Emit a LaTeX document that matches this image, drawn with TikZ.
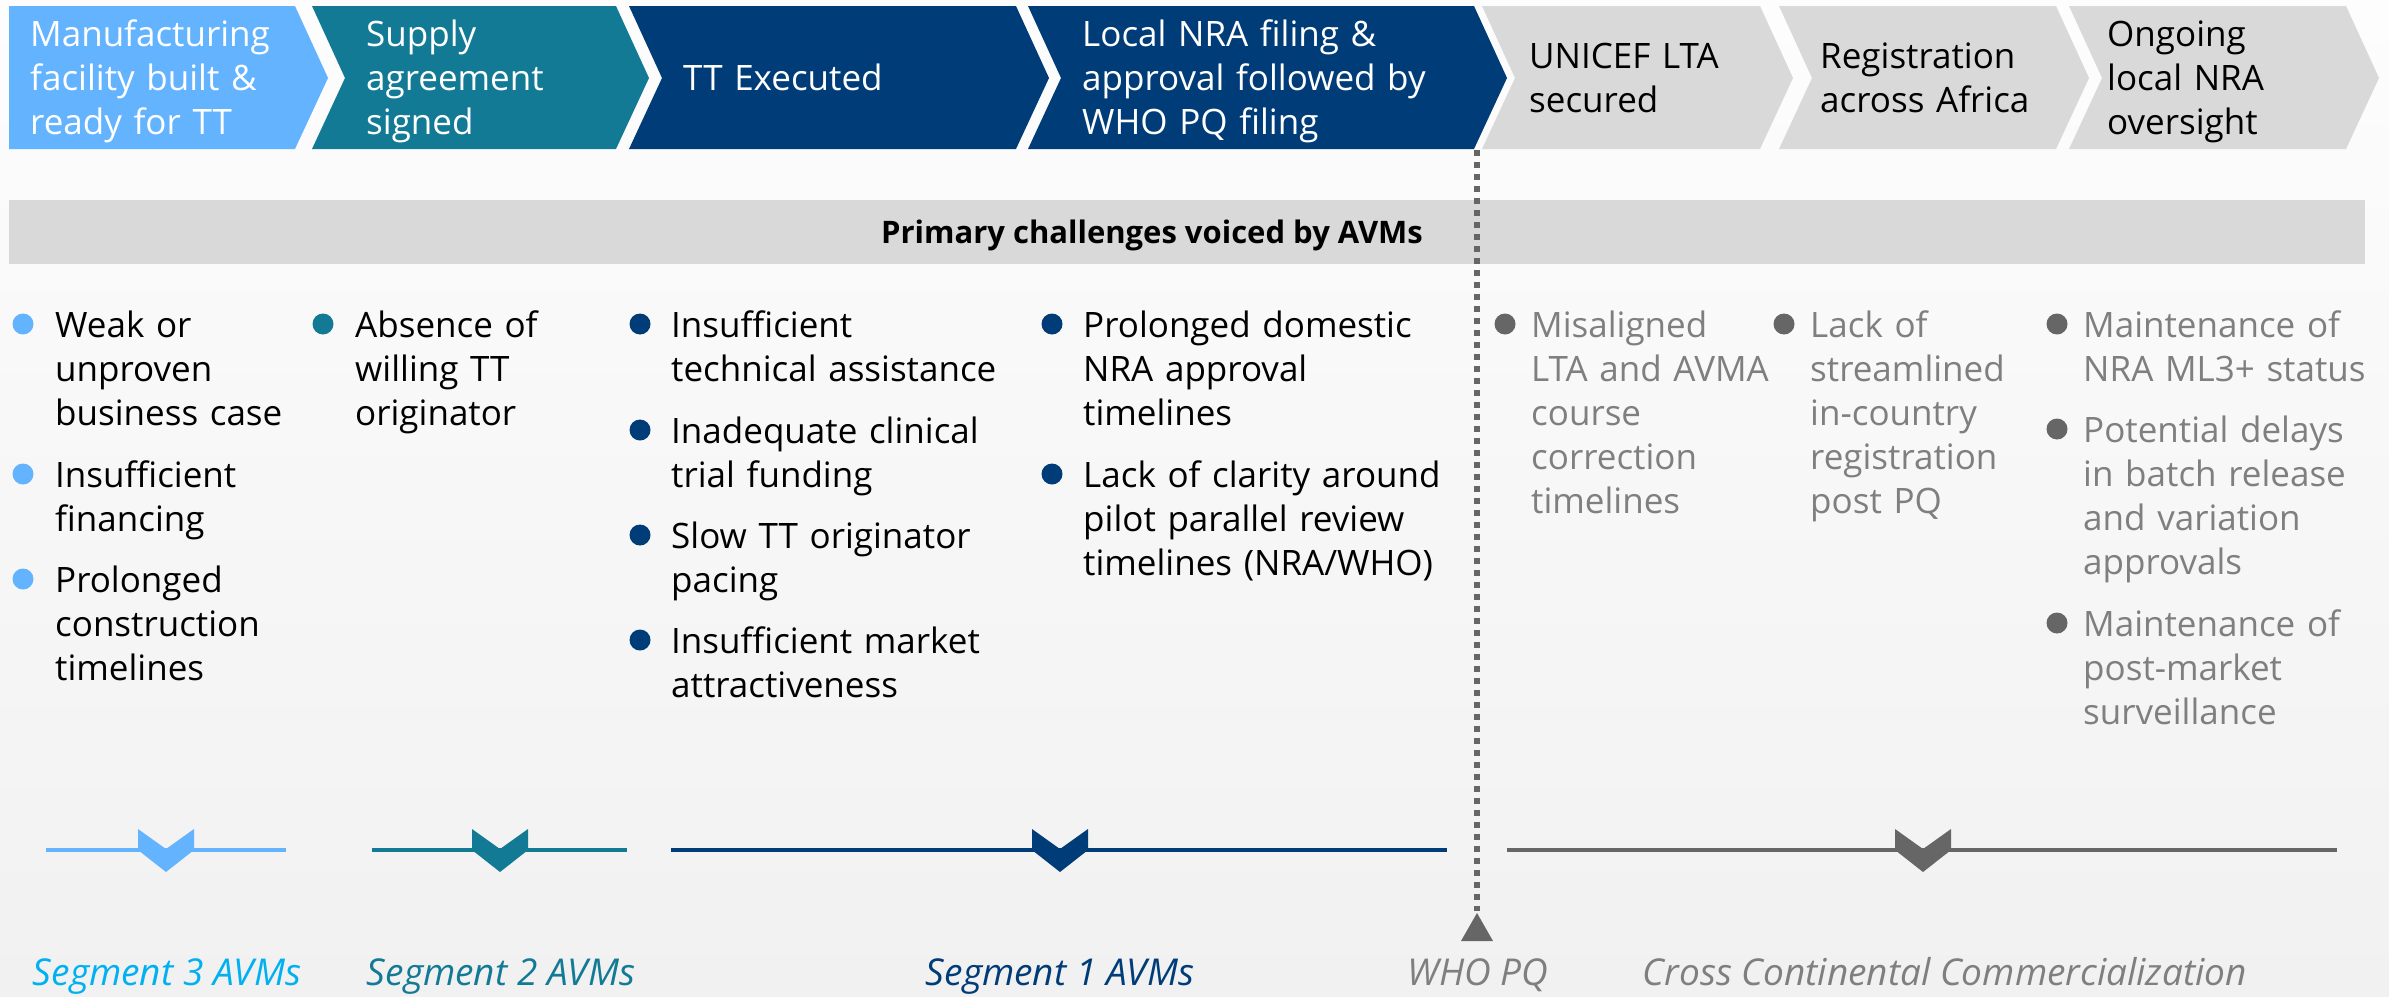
\documentclass[tikz,border=0pt]{standalone}
\usepackage{fontspec}
\setmainfont{Open Sans}
\definecolor{cLight}{HTML}{63B3FF}
\definecolor{cTeal}{HTML}{137A96}
\definecolor{cNavy}{HTML}{003D78}
\definecolor{cGrayChev}{HTML}{D9D9D9}
\definecolor{cDot}{HTML}{666666}
\definecolor{cGrayTxt}{HTML}{7F7F7F}
\definecolor{cSeg}{HTML}{00B0F0}
\definecolor{bgTop}{HTML}{FDFDFD}
\definecolor{bgBot}{HTML}{F1F1F1}
\begin{document}
\begin{tikzpicture}[x=1pt,y=-1pt,
  txt/.style={anchor=base west, inner sep=0pt, text width=470pt, align=left,
      font=\fontsize{35}{44}\selectfont},
  chevtxt/.style={txt, text=white},
  chevtxtdark/.style={txt, text=black},
  itemtxt/.style={txt, text=black},
  grayitem/.style={txt, text=cGrayTxt},
  bulletdot/.style={circle, fill=#1, minimum size=21pt, inner sep=0pt},
  seglabel/.style={anchor=base, inner sep=0pt, font=\fontsize{37}{42}\selectfont\itshape, text=#1},
  segline/.style={line width=4.5pt, draw=#1},
  titletxt/.style={anchor=base, inner sep=0pt, font=\fontsize{31}{36}\selectfont\bfseries},
]
\useasboundingbox (0,0) rectangle (2389,996);
\fill[top color=bgTop, bottom color=bgBot] (0,0) rectangle (2389,996);

% chevrons
\fill[cLight] (9,6) -- (295,6) -- (328,78) -- (295,149) -- (9,149) -- cycle;
\foreach \xl/\xr/\col in {312/616/cTeal, 629/1016/cNavy, 1028/1474/cNavy,
    1482/1760/cGrayChev, 1779/2056/cGrayChev, 2069/2346/cGrayChev}{
  \fill[\col] (\xl,6) -- (\xr,6) -- (\xr+33,78) -- (\xr,149) -- (\xl,149) -- (\xl+33,78) -- cycle;
}
\node[chevtxt] (c1) at (30,46) {Manufacturing\\facility built \&\\ready for TT};
\node[chevtxt] (c2) at (366,46) {Supply\\agreement\\signed};
\node[chevtxt] (c3) at (683,90) {TT Executed};
\node[chevtxt] (c4) at (1082,46) {Local NRA filing \&\\approval followed by\\WHO PQ filing};
\node[chevtxtdark] (c5) at (1529,68) {UNICEF LTA\\secured};
\node[chevtxtdark] (c6) at (1820,68) {Registration\\across Africa};
\node[chevtxtdark] (c7) at (2107,46) {Ongoing\\local NRA\\oversight};

% title bar
\fill[cGrayChev] (9,200) rectangle (2365,264);
\node[titletxt] (title) at (1152,243) {Primary challenges voiced by AVMs};

% column 1
\node[bulletdot=cLight] (d11) at (23,324) {};
\node[itemtxt] (t11) at (55,337) {Weak or\\unproven\\business case};
\node[bulletdot=cLight] (d12) at (23,474) {};
\node[itemtxt] (t12) at (55,487) {Insufficient\\financing};
\node[bulletdot=cLight] (d13) at (23,579) {};
\node[itemtxt] (t13) at (55,592) {Prolonged\\construction\\timelines};
% column 2
\node[bulletdot=cTeal] (d21) at (323,324) {};
\node[itemtxt] (t21) at (355,337) {Absence of\\willing TT\\originator};
% column 3
\node[bulletdot=cNavy] (d31) at (640,324) {};
\node[itemtxt] (t31) at (671,337) {Insufficient\\technical assistance};
\node[bulletdot=cNavy] (d32) at (640,430) {};
\node[itemtxt] (t32) at (671,443) {Inadequate clinical\\trial funding};
\node[bulletdot=cNavy] (d33) at (640,535) {};
\node[itemtxt] (t33) at (671,548) {Slow TT originator\\pacing};
\node[bulletdot=cNavy] (d34) at (640,640) {};
\node[itemtxt] (t34) at (671,653) {Insufficient market\\attractiveness};
% column 4
\node[bulletdot=cNavy] (d41) at (1052,324) {};
\node[itemtxt] (t41) at (1083,337) {Prolonged domestic\\NRA approval\\timelines};
\node[bulletdot=cNavy] (d42) at (1052,474) {};
\node[itemtxt] (t42) at (1083,487) {Lack of clarity around\\pilot parallel review\\timelines (NRA/WHO)};
% column 5
\node[bulletdot=cDot] (d51) at (1505,324) {};
\node[grayitem] (t51) at (1531,337) {Misaligned\\LTA and AVMA\\course\\correction\\timelines};
% column 6
\node[bulletdot=cDot] (d61) at (1784,324) {};
\node[grayitem] (t61) at (1810,337) {Lack of\\streamlined\\in-country\\registration\\post PQ};
% column 7
\node[bulletdot=cDot] (d71) at (2057,324) {};
\node[grayitem] (t71) at (2083,337) {Maintenance of\\NRA ML3+ status};
\node[bulletdot=cDot] (d72) at (2057,429) {};
\node[grayitem] (t72) at (2083,442) {Potential delays\\in batch release\\and variation\\approvals};
\node[bulletdot=cDot] (d73) at (2057,623) {};
\node[grayitem] (t73) at (2083,636) {Maintenance of\\post-market\\surveillance};

% segment lines and markers
\draw[segline=cLight] (46,850) -- (286,850);
\draw[segline=cTeal] (372,850) -- (627,850);
\draw[segline=cNavy] (671,850) -- (1447,850);
\draw[segline=cDot] (1507,850) -- (2337,850);
\foreach \c/\col in {166/cLight, 500/cTeal, 1060/cNavy, 1923/cDot}{
  \fill[\col] (\c-28,829) -- (\c,849) -- (\c+28,829) -- (\c+28,850) -- (\c,872) -- (\c-28,850) -- cycle;
}

% WHO PQ marker
\coordinate (pqtop) at (1477,150);
\coordinate (pqbot) at (1477,911);
\draw[cDot, line width=5.5pt, dash pattern=on 6pt off 6pt] (pqtop) -- (pqbot);
\fill[cDot] (1477,913) -- (1493,941) -- (1461,941) -- cycle;

% segment labels
\node[seglabel=cSeg] (s3) at (167,985) {Segment 3 AVMs};
\node[seglabel=cTeal] (s2) at (501,985) {Segment 2 AVMs};
\node[seglabel=cNavy] (s1) at (1060,985) {Segment 1 AVMs};
\node[seglabel=cGrayTxt] (spq) at (1478,985) {WHO PQ};
\node[seglabel=cGrayTxt] (scc) at (1945,985) {Cross Continental Commercialization};
\end{tikzpicture}
\end{document}
